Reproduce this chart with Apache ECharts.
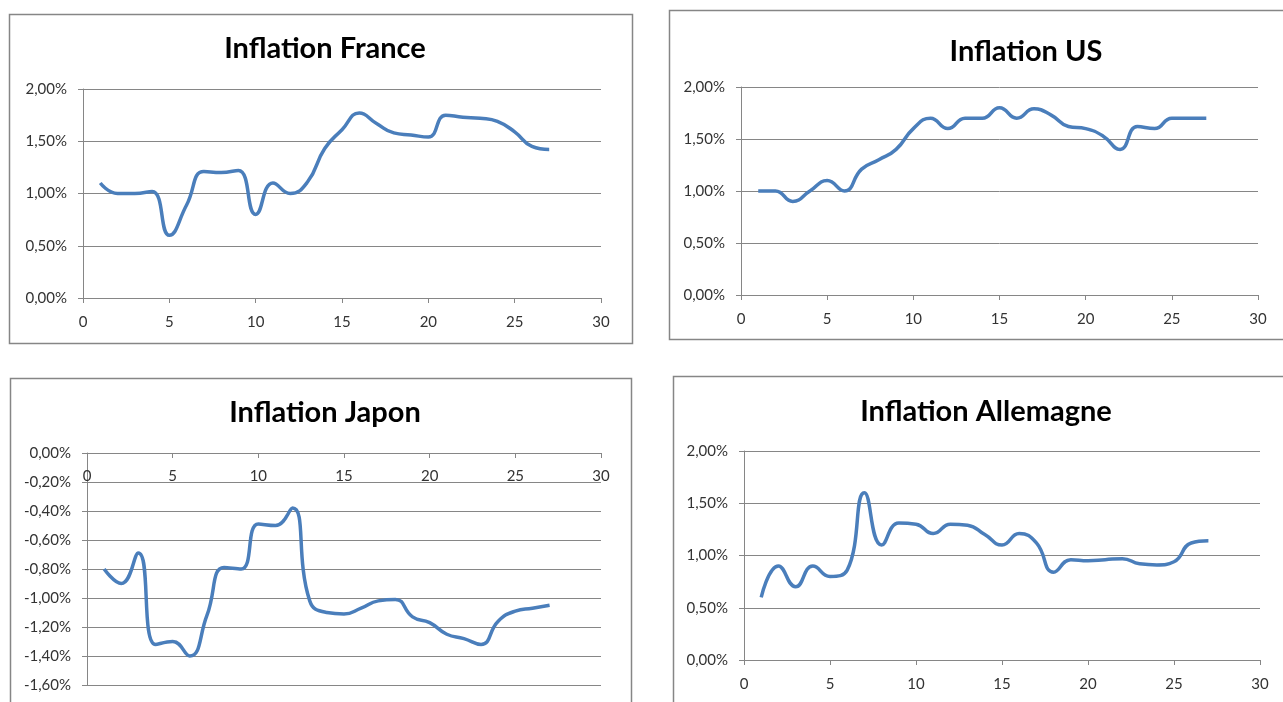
<!DOCTYPE html>
<html>
<head>
<meta charset="utf-8">
<script src="https://cdn.jsdelivr.net/npm/echarts@6/dist/echarts.min.js"></script>
<style>
  html, body { margin: 0; padding: 0; background: #fff; }
  #main { width: 1283px; height: 702px; }
</style>
</head>
<body>
<div id="main"></div>
<script>
// periods 1..27 on the x axis
var periods = [1, 2, 3, 4, 5, 6, 7, 8, 9, 10, 11, 12, 13, 14, 15, 16, 17, 18, 19, 20, 21, 22, 23, 24, 25, 26, 27];

// inflation values in %
var france = [1.10, 1.00, 1.00, 1.02, 0.60, 0.89, 1.21, 1.20, 1.22, 0.80, 1.10, 1.00, 1.11, 1.43, 1.61, 1.77, 1.67, 1.58, 1.56, 1.54, 1.75, 1.73, 1.72, 1.69, 1.59, 1.45, 1.42];
var us = [1.00, 1.00, 0.90, 1.00, 1.10, 1.00, 1.21, 1.30, 1.40, 1.60, 1.70, 1.60, 1.70, 1.70, 1.80, 1.70, 1.79, 1.73, 1.62, 1.60, 1.53, 1.40, 1.62, 1.60, 1.70, 1.70, 1.70];
var japon = [-0.80, -0.90, -0.69, -1.32, -1.30, -1.40, -1.12, -0.79, -0.80, -0.49, -0.50, -0.38, -1.02, -1.10, -1.11, -1.07, -1.02, -1.01, -1.13, -1.17, -1.25, -1.28, -1.32, -1.16, -1.09, -1.07, -1.05];
var allemagne = [0.60, 0.90, 0.70, 0.90, 0.80, 0.86, 1.60, 1.10, 1.31, 1.30, 1.21, 1.30, 1.29, 1.20, 1.10, 1.21, 1.12, 0.84, 0.96, 0.95, 0.96, 0.97, 0.92, 0.91, 0.94, 1.12, 1.14];

var titles = ["Inflation France", "Inflation US", "Inflation Japon", "Inflation Allemagne"];

var lineColor = "#4a7ebb";
var gridColor = "#868686";
var font = "Lato, 'Open Sans', sans-serif";

function pct(v) {
  return v.toFixed(2).replace(".", ",") + "%";
}

function pairs(values) {
  return periods.map(function(p, i) {
    return [p, values[i]];
  });
}

var panels = [
  { data: france, grid: { left: 83, top: 89, width: 518, height: 209 }, min: 0, max: 2, interval: 0.5, title: [320, 29], xTop: false },
  { data: us, grid: { left: 741, top: 87, width: 517, height: 208 }, min: 0, max: 2, interval: 0.5, title: [1021, 32], xTop: false },
  { data: japon, grid: { left: 87, top: 453, width: 514, height: 232 }, min: -1.6, max: 0, interval: 0.2, title: [320, 393], xTop: true },
  { data: allemagne, grid: { left: 744, top: 451, width: 516, height: 209 }, min: 0, max: 2, interval: 0.5, title: [981, 392], xTop: false }
];

var boxes = [
  { x: 9, y: 14, w: 623, h: 329 },
  { x: 669, y: 10, w: 630, h: 329 },
  { x: 10, y: 378, w: 621, h: 340 },
  { x: 673, y: 376, w: 630, h: 340 }
];

var option = {
  backgroundColor: "#fff",
  animation: false,
  title: panels.map(function(p, i) {
    return {
      text: titles[i],
      left: p.title[0],
      top: p.title[1],
      textAlign: "center",
      textStyle: { fontFamily: font, fontSize: 29, fontWeight: "bold", color: "#000" }
    };
  }),
  graphic: boxes.map(function(b) {
    return {
      type: "rect",
      shape: { x: b.x + 0.5, y: b.y + 0.5, width: b.w, height: b.h },
      style: { fill: null, stroke: gridColor, lineWidth: 1.5 },
      silent: true
    };
  }),
  grid: panels.map(function(p) {
    return Object.assign({ containLabel: false, outerBoundsMode: "none" }, p.grid);
  }),
  xAxis: panels.map(function(p, i) {
    return {
      type: "value",
      gridIndex: i,
      position: p.xTop ? "top" : "bottom",
      min: 0,
      max: 30,
      interval: 5,
      axisLine: { show: true, onZero: false, lineStyle: { color: gridColor, width: 1 } },
      axisTick: { show: true, inside: p.xTop, length: 5, lineStyle: { color: gridColor } },
      axisLabel: { color: "#333", fontFamily: font, fontSize: 15, margin: p.xTop ? 16 : 17, inside: p.xTop },
      splitLine: { show: false }
    };
  }),
  yAxis: panels.map(function(p, i) {
    return {
      type: "value",
      gridIndex: i,
      min: p.min,
      max: p.max,
      interval: p.interval,
      axisLine: { show: true, lineStyle: { color: gridColor, width: 1 } },
      axisTick: { show: true, length: 5, lineStyle: { color: gridColor } },
      axisLabel: { color: "#333", fontFamily: font, fontSize: 15, margin: 16, formatter: pct },
      splitLine: { show: true, lineStyle: { color: gridColor, width: 1 } }
    };
  }),
  series: panels.map(function(p, i) {
    return {
      type: "line",
      xAxisIndex: i,
      yAxisIndex: i,
      data: pairs(p.data),
      smooth: 0.5,
      showSymbol: false,
      lineStyle: { color: lineColor, width: 3.5 },
      z: 3
    };
  })
};

var chart = echarts.init(document.getElementById("main"));
chart.setOption(option);
</script>
</body>
</html>
